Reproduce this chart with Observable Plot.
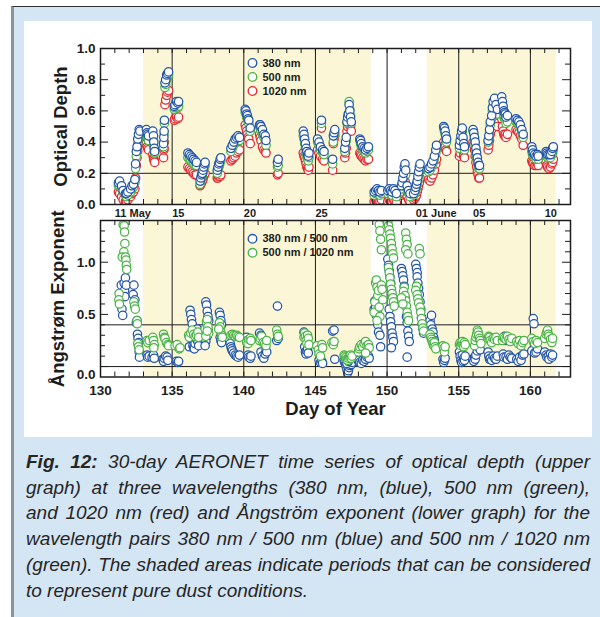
<!DOCTYPE html>
<html>
<head>
<meta charset="utf-8">
<script src="https://cdn.jsdelivr.net/npm/d3@7"></script>
<script src="https://cdn.jsdelivr.net/npm/@observablehq/plot@0.6"></script>
<style>
  html, body { margin: 0; padding: 0; background: #fff; }
  #page { position: relative; width: 600px; height: 617px; overflow: hidden; }
  #box { position: absolute; left: 11px; top: 6px; right: 0; bottom: 0; background: #d4e5f3;
         border-top: 1.5px solid #2e2e2e; border-left: 3px solid #8d939a; }
  #sheet { position: absolute; left: 24px; top: 21px; width: 568px; height: 416px; background: #fff; }
  #upper, #lower { position: absolute; left: 0; }
  #upper { top: 0; }
  #lower { top: 212px; }
  #caption { position: absolute; left: 26px; top: 449px; width: 564px; color: #262626;
             font-family: "Liberation Sans", Arial, Helvetica, sans-serif;
             font-style: italic; font-size: 19px; line-height: 25.7px; }
  #caption span { display: block; white-space: nowrap; text-align: justify; text-align-last: justify; }
  #caption span.last { text-align-last: left; }
  #caption b { font-weight: bold; }
</style>
</head>
<body>
<div id="page">
  <div id="box"></div>
  <div id="sheet"></div>
  <div id="upper"></div>
  <div id="lower"></div>
  <div id="caption"></div>
</div>
<script>
// ---- time axis (day of year) ----
const dayDomain = [130, 162.8];
const dustStart = [133.0, 152.8];   // shaded pure-dust periods
const dustEnd = [148.9, 161.8];
const doyRules = [135, 140, 145, 150, 155, 160];
const doyTicks = [130, 135, 140, 145, 150, 155, 160];
const dateTickDays = [131, 135, 140, 145, 152, 156, 161];
const dateTickLabels = ["11 May", "15", "20", "25", "01 June", "05", "10"];

// ---- optical depth ----
const aodTicks = [0, 0.2, 0.4, 0.6, 0.8, 1.0];
const aodMinor = [0.1, 0.3, 0.5, 0.7, 0.9];
const aodThreshold = [0.2];
const aodSeries = ["380 nm", "500 nm", "1020 nm"];

const aodDay = [
  131.25, 131.33, 131.47, 131.58, 131.74, 131.81, 131.91,
  132.10, 132.20, 132.30, 132.40, 132.45, 132.50, 132.55, 132.60, 132.65, 132.70, 132.75,
  133.20, 133.25, 133.30, 133.35,
  133.65, 133.70, 133.72, 133.75, 133.78,
  134.40, 134.42, 134.44, 134.46, 134.50, 134.55, 134.62, 134.68, 134.75,
  135.15, 135.20, 135.30, 135.40, 135.45,
  136.10, 136.20, 136.30, 136.40, 136.50, 136.60, 136.70,
  136.95, 137.00, 137.05, 137.10, 137.15, 137.20, 137.25, 137.30,
  138.15, 138.20, 138.25, 138.30, 138.35, 138.40,
  139.10, 139.20, 139.30, 139.40, 139.50, 139.60, 139.70,
  140.10, 140.15, 140.20, 140.25, 140.30, 140.35, 140.45,
  141.10, 141.15, 141.20, 141.30, 141.40, 141.50, 141.55,
  142.35, 142.40,
  144.15, 144.20, 144.25, 144.30, 144.35, 144.40, 144.45, 144.50, 144.55,
  145.15, 145.25, 145.35, 145.42, 145.50, 145.60,
  146.20, 146.25, 146.30, 146.35,
  147.05, 147.10, 147.15, 147.20, 147.25, 147.30, 147.35, 147.40, 147.45, 147.50,
  148.10, 148.15, 148.20, 148.30, 148.40, 148.50, 148.60, 148.70,
  149.10, 149.20, 149.30, 149.40, 149.50, 149.60,
  150.05, 150.15, 150.25, 150.35, 150.45, 150.55, 150.65,
  151.00, 151.05, 151.10, 151.15, 151.20, 151.25, 151.30, 151.40, 151.50, 151.60,
  151.85, 151.95, 152.00, 152.05, 152.10, 152.15, 152.20, 152.25, 152.30,
  152.90, 153.00, 153.10, 153.20, 153.30, 153.40, 153.45,
  153.95, 154.00, 154.05, 154.10, 154.15,
  155.05, 155.10, 155.15, 155.20, 155.25, 155.30, 155.35, 155.40,
  156.00, 156.05, 156.10, 156.15, 156.20, 156.25, 156.30, 156.35, 156.40, 156.45,
  157.05, 157.10, 157.15, 157.20, 157.30, 157.35, 157.40, 157.50, 157.60, 157.70,
  158.00, 158.05, 158.10, 158.15, 158.20, 158.25, 158.30, 158.40,
  159.00, 159.10, 159.20, 159.30, 159.40, 159.50,
  160.10, 160.15, 160.20, 160.30, 160.40, 160.50, 160.55,
  161.10, 161.15, 161.20, 161.30, 161.40, 161.50, 161.55, 161.60
];
const aod380 = [
  0.14, 0.15, 0.12, 0.09, 0.07, 0.07, 0.08,
  0.10, 0.12, 0.13, 0.16, 0.26, 0.34, 0.37, 0.42, 0.45, 0.48, 0.47,
  0.48, 0.46, 0.45, 0.44,
  0.47, 0.44, 0.40, 0.36, 0.34,
  0.39, 0.43, 0.47, 0.54, 0.78, 0.80, 0.83, 0.84, 0.85,
  0.63, 0.64, 0.66, 0.65, 0.66,
  0.33, 0.32, 0.31, 0.30, 0.29, 0.28, 0.27,
  0.15, 0.17, 0.19, 0.20, 0.22, 0.24, 0.26, 0.27,
  0.22, 0.24, 0.26, 0.27, 0.29, 0.30,
  0.36, 0.38, 0.40, 0.42, 0.43, 0.44, 0.43,
  0.61, 0.60, 0.58, 0.57, 0.55, 0.54, 0.49,
  0.51, 0.51, 0.50, 0.48, 0.45, 0.44, 0.41,
  0.27, 0.29,
  0.47, 0.45, 0.42, 0.39, 0.36, 0.34, 0.32, 0.31, 0.33,
  0.42, 0.40, 0.37, 0.54, 0.35, 0.34,
  0.29, 0.44, 0.46, 0.48,
  0.36, 0.40, 0.43, 0.53, 0.56, 0.58, 0.64, 0.60, 0.56, 0.53,
  0.42, 0.41, 0.39, 0.37, 0.36, 0.35, 0.36, 0.37,
  0.08, 0.09, 0.10, 0.09, 0.08, 0.09,
  0.09, 0.10, 0.09, 0.08, 0.10, 0.09, 0.07,
  0.12, 0.14, 0.17, 0.20, 0.24, 0.26, 0.22, 0.12, 0.09, 0.07,
  0.07, 0.09, 0.11, 0.13, 0.15, 0.18, 0.21, 0.24, 0.26,
  0.23, 0.24, 0.26, 0.28, 0.31, 0.35, 0.38,
  0.50, 0.49, 0.47, 0.44, 0.42,
  0.38, 0.41, 0.44, 0.47, 0.49, 0.43, 0.39, 0.37,
  0.48, 0.46, 0.43, 0.40, 0.36, 0.33, 0.30, 0.27, 0.25, 0.25,
  0.41, 0.44, 0.48, 0.53, 0.57, 0.62, 0.66, 0.68, 0.64, 0.61,
  0.69, 0.66, 0.63, 0.60, 0.59, 0.58, 0.56, 0.57,
  0.55, 0.54, 0.53, 0.51, 0.48, 0.45,
  0.37, 0.35, 0.33, 0.32, 0.31, 0.32, 0.31,
  0.34, 0.33, 0.32, 0.32, 0.32, 0.34, 0.36, 0.37
];
const aod500 = [
  0.12, 0.12, 0.10, 0.08, 0.06, 0.05, 0.06,
  0.08, 0.10, 0.11, 0.14, 0.23, 0.31, 0.34, 0.39, 0.42, 0.45, 0.45,
  0.45, 0.44, 0.43, 0.41,
  0.42, 0.41, 0.37, 0.34, 0.33,
  0.37, 0.40, 0.45, 0.52, 0.75, 0.77, 0.80, 0.82, 0.83,
  0.61, 0.62, 0.63, 0.62, 0.63,
  0.30, 0.29, 0.28, 0.27, 0.26, 0.25, 0.25,
  0.13, 0.15, 0.17, 0.18, 0.20, 0.22, 0.24, 0.25,
  0.20, 0.22, 0.24, 0.25, 0.27, 0.28,
  0.34, 0.36, 0.38, 0.40, 0.41, 0.42, 0.41,
  0.59, 0.58, 0.56, 0.55, 0.53, 0.52, 0.47,
  0.50, 0.49, 0.47, 0.45, 0.43, 0.41, 0.38,
  0.24, 0.25,
  0.44, 0.42, 0.39, 0.36, 0.33, 0.31, 0.29, 0.28, 0.30,
  0.40, 0.38, 0.35, 0.52, 0.33, 0.32,
  0.26, 0.40, 0.44, 0.46,
  0.34, 0.38, 0.41, 0.52, 0.55, 0.58, 0.66, 0.61, 0.57, 0.52,
  0.41, 0.39, 0.37, 0.35, 0.34, 0.33, 0.34, 0.35,
  0.06, 0.07, 0.08, 0.07, 0.06, 0.07,
  0.07, 0.08, 0.07, 0.06, 0.08, 0.07, 0.05,
  0.10, 0.12, 0.14, 0.17, 0.21, 0.23, 0.19, 0.10, 0.07, 0.05,
  0.06, 0.07, 0.09, 0.11, 0.13, 0.15, 0.18, 0.21, 0.23,
  0.21, 0.22, 0.24, 0.26, 0.29, 0.33, 0.36,
  0.49, 0.47, 0.45, 0.42, 0.40,
  0.36, 0.39, 0.42, 0.45, 0.47, 0.41, 0.37, 0.35,
  0.47, 0.45, 0.42, 0.38, 0.34, 0.31, 0.28, 0.25, 0.23, 0.23,
  0.40, 0.42, 0.46, 0.51, 0.55, 0.60, 0.63, 0.65, 0.61, 0.58,
  0.66, 0.62, 0.59, 0.56, 0.55, 0.54, 0.52, 0.53,
  0.53, 0.52, 0.51, 0.49, 0.46, 0.43,
  0.34, 0.32, 0.31, 0.30, 0.29, 0.30, 0.29,
  0.32, 0.31, 0.30, 0.30, 0.30, 0.32, 0.33, 0.35
];
const aod1020 = [
  0.08, 0.07, 0.05, 0.03, 0.02, 0.02, 0.03,
  0.05, 0.07, 0.08, 0.10, 0.17, 0.25, 0.30, 0.34, 0.38, 0.40, 0.41,
  0.39, 0.37, 0.36, 0.35,
  0.32, 0.30, 0.29, 0.28, 0.27,
  0.30, 0.35, 0.36, 0.40, 0.64, 0.67, 0.70, 0.72, 0.73,
  0.54, 0.55, 0.56, 0.55, 0.56,
  0.24, 0.23, 0.22, 0.21, 0.20, 0.19, 0.19,
  0.12, 0.13, 0.14, 0.15, 0.16, 0.18, 0.19, 0.20,
  0.17, 0.17, 0.18, 0.18, 0.18, 0.19,
  0.28, 0.29, 0.30, 0.31, 0.33, 0.34, 0.35,
  0.51, 0.49, 0.47, 0.45, 0.43, 0.42, 0.39,
  0.45, 0.43, 0.41, 0.37, 0.35, 0.34, 0.33,
  0.19, 0.20,
  0.33, 0.31, 0.30, 0.28, 0.26, 0.24, 0.23, 0.22, 0.24,
  0.35, 0.33, 0.31, 0.49, 0.29, 0.28,
  0.22, 0.39, 0.42, 0.44,
  0.30, 0.33, 0.36, 0.47, 0.50, 0.52, 0.58, 0.54, 0.50, 0.47,
  0.33, 0.32, 0.31, 0.30, 0.29, 0.28, 0.29, 0.29,
  0.02, 0.03, 0.03, 0.02, 0.02, 0.03,
  0.02, 0.03, 0.02, 0.02, 0.03, 0.02, 0.01,
  0.06, 0.07, 0.08, 0.10, 0.13, 0.15, 0.12, 0.05, 0.03, 0.02,
  0.03, 0.04, 0.05, 0.06, 0.08, 0.10, 0.12, 0.14, 0.17,
  0.16, 0.15, 0.17, 0.19, 0.22, 0.26, 0.29,
  0.40, 0.38, 0.37, 0.35, 0.34,
  0.31, 0.33, 0.36, 0.39, 0.40, 0.34, 0.31, 0.30,
  0.40, 0.38, 0.35, 0.31, 0.27, 0.24, 0.21, 0.19, 0.17, 0.17,
  0.35, 0.38, 0.41, 0.45, 0.48, 0.52, 0.54, 0.55, 0.52, 0.50,
  0.55, 0.50, 0.47, 0.45, 0.44, 0.45, 0.43, 0.45,
  0.48, 0.47, 0.46, 0.44, 0.42, 0.38,
  0.28, 0.27, 0.26, 0.25, 0.25, 0.26, 0.25,
  0.27, 0.25, 0.24, 0.23, 0.24, 0.26, 0.27, 0.29
];

// ---- Ångström exponent: [day of year, exponent] ----
const angTicks = [0.5, 1.0];
const angZeroTick = [0];
const angMinor = [0.1, 0.2, 0.3, 0.4, 0.6, 0.7, 0.8, 0.9, 1.1, 1.2, 1.3];
const angRules = [0, 0.4];
const angSeries = ["380 nm / 500 nm", "500 nm / 1020 nm"];

const ang380_500 = [
  [131.45,0.78],[131.45,0.68],[131.50,0.55],[131.55,0.49],[131.65,0.80],[131.68,0.73],[131.70,0.67],
  [131.74,0.85],[131.80,0.78],[132.28,0.69],[132.33,0.78],[132.40,0.64],[132.50,0.42],[132.55,0.44],
  [132.58,0.31],[132.62,0.27],[132.66,0.23],[132.70,0.14],[132.72,0.09],
  [133.25,0.11],[133.30,0.09],[133.40,0.10],[133.60,0.09],[133.70,0.11],[133.75,0.08],
  [134.35,0.07],[134.40,0.05],[134.45,0.08],[134.55,0.10],[134.65,0.09],[134.70,0.06],
  [135.30,0.05],[135.40,0.04],[135.45,0.05],
  [136.20,0.19],[136.25,0.54],[136.30,0.50],[136.35,0.45],[136.40,0.41],[136.45,0.20],[136.50,0.18],
  [136.55,0.17],[136.60,0.22],[136.70,0.26],[136.75,0.36],[136.80,0.24],[136.85,0.20],
  [137.35,0.62],[137.40,0.59],[137.45,0.53],[137.50,0.48],[137.55,0.44],[137.40,0.40],[137.45,0.29],
  [137.35,0.24],[137.30,0.20],[137.50,0.35],
  [138.30,0.52],[138.35,0.49],[138.40,0.44],[138.45,0.40],[138.30,0.36],[138.35,0.28],[138.40,0.25],[138.45,0.23],
  [139.05,0.22],[139.10,0.19],[139.15,0.17],[139.20,0.15],[139.30,0.13],[139.40,0.11],[139.50,0.10],
  [139.60,0.09],[139.70,0.11],
  [140.20,0.28],[140.25,0.25],[140.30,0.11],[140.35,0.09],[140.45,0.08],[140.50,0.10],
  [141.10,0.32],[141.20,0.30],[141.25,0.27],[141.20,0.14],[141.30,0.10],[141.40,0.08],[141.50,0.12],
  [141.55,0.15],[141.60,0.14],
  [142.30,0.25],[142.35,0.58],[142.40,0.27],
  [144.20,0.33],[144.25,0.19],[144.30,0.14],[144.35,0.12],[144.40,0.15],[144.45,0.17],[144.50,0.13],
  [145.25,0.06],[145.35,0.04],[145.45,0.05],[145.50,0.03],
  [146.20,0.34],[146.30,0.35],[146.35,0.07],
  [147.00,0.06],[147.05,0.04],[147.10,0.02],[147.15,0.00],[147.20,-0.03],[147.25,-0.06],[147.30,-0.04],
  [147.35,-0.01],[147.40,0.01],[147.45,0.03],[147.50,0.02],[147.55,0.04],[147.20,0.03],[147.30,0.05],
  [148.00,0.05],[148.05,0.06],[148.10,0.04],[148.20,0.03],[148.30,0.06],[148.40,0.05],[148.50,0.07],
  [148.60,0.09],[148.70,0.10],[148.75,0.08],
  [149.10,0.55],[149.15,0.63],[149.20,0.57],[149.25,0.49],[149.30,0.52],[149.35,0.40],[149.40,0.33],
  [149.50,0.30],[149.55,0.19],
  [150.05,1.03],[150.10,0.97],[150.15,0.92],[150.20,0.86],[150.25,0.80],[150.30,0.74],[150.15,0.55],
  [150.20,0.48],[150.25,0.43],[150.30,0.38],[150.35,0.32],[150.40,0.28],[150.45,0.24],[150.30,0.18],
  [151.00,0.94],[151.05,0.91],[151.10,0.87],[151.15,0.83],[151.20,0.77],[151.25,0.66],[151.30,0.58],
  [151.35,0.48],[151.40,0.42],[151.45,0.34],[151.50,0.29],[151.40,0.09],[151.55,0.24],
  [152.00,0.98],[152.05,0.94],[152.10,0.90],[152.10,0.86],[152.15,0.80],[152.20,0.75],[152.25,0.69],
  [152.30,0.62],[152.35,0.55],[152.40,0.47],[152.45,0.41],[152.50,0.36],[152.55,0.32],
  [153.00,0.44],[153.05,0.40],[153.10,0.49],[153.15,0.36],[153.20,0.33],[153.25,0.28],[153.30,0.25],
  [153.35,0.21],[153.40,0.20],[153.90,0.07],[153.95,0.04],[154.00,0.06],[154.05,0.08],
  [155.05,0.14],[155.10,0.10],[155.15,0.06],[155.20,0.04],[155.25,0.11],[155.30,0.05],[155.35,0.08],
  [155.40,0.06],[155.45,0.10],
  [156.05,0.05],[156.10,0.09],[156.15,0.07],[156.20,0.11],[156.30,0.15],[156.35,0.19],[156.40,0.22],
  [156.45,0.19],[156.50,0.16],
  [157.05,0.14],[157.10,0.10],[157.15,0.07],[157.20,0.08],[157.30,0.06],[157.40,0.10],[157.50,0.08],
  [157.60,0.07],[157.70,0.10],
  [158.10,0.12],[158.15,0.09],[158.20,0.29],[158.25,0.25],[158.30,0.09],[158.40,0.07],[158.50,0.11],
  [158.60,0.09],[158.70,0.08],
  [159.05,0.07],[159.15,0.05],[159.25,0.09],[159.35,0.06],[159.45,0.11],[159.55,0.12],
  [160.10,0.15],[160.20,0.46],[160.25,0.41],[160.30,0.13],[160.40,0.14],[160.50,0.17],
  [161.00,0.14],[161.10,0.11],[161.15,0.09],[161.25,0.10],[161.30,0.07],[161.40,0.12],[161.50,0.09],[161.55,0.11]
];
const ang500_1020 = [
  [131.58,1.36],[131.65,1.35],[131.68,1.29],[131.70,1.18],[131.63,1.10],[131.52,1.05],[131.74,1.05],
  [131.78,1.02],[131.80,0.97],[131.83,0.93],[131.30,0.70],[131.28,0.64],[131.32,0.60],[132.33,0.62],
  [132.37,0.58],[132.43,0.55],[132.55,0.44],[132.57,0.41],[132.60,0.22],[132.65,0.19],[132.70,0.16],
  [133.25,0.25],[133.30,0.23],[133.40,0.25],[133.65,0.28],[133.70,0.25],[133.75,0.21],[133.72,0.18],
  [134.40,0.31],[134.45,0.28],[134.50,0.27],[134.60,0.23],[134.70,0.21],[134.75,0.20],
  [135.20,0.20],[135.35,0.21],[135.50,0.17],[135.55,0.18],
  [136.15,0.30],[136.20,0.28],[136.30,0.32],[136.40,0.35],[136.50,0.31],[136.60,0.29],[136.70,0.30],
  [136.80,0.33],[136.85,0.28],
  [137.30,0.36],[137.40,0.43],[137.45,0.45],[137.50,0.38],[137.55,0.32],[137.35,0.29],[137.45,0.34],
  [138.30,0.42],[138.35,0.38],[138.40,0.33],[138.45,0.30],[138.50,0.28],[138.25,0.36],
  [139.10,0.30],[139.20,0.31],[139.30,0.30],[139.40,0.29],[139.50,0.30],[139.60,0.29],[139.70,0.28],
  [140.20,0.23],[140.30,0.22],[140.35,0.26],[140.45,0.27],[140.50,0.25],
  [141.10,0.25],[141.15,0.27],[141.25,0.29],[141.35,0.23],[141.45,0.22],[141.55,0.20],[141.60,0.25],
  [142.30,0.35],[142.35,0.31],[142.40,0.29],
  [144.20,0.28],[144.25,0.32],[144.30,0.29],[144.35,0.25],[144.40,0.22],[144.45,0.30],[144.50,0.27],[144.55,0.21],
  [145.10,0.20],[145.20,0.16],[145.25,0.12],[145.35,0.10],[145.45,0.21],[145.50,0.18],
  [146.15,0.23],[146.25,0.21],[146.30,0.24],
  [147.00,0.11],[147.05,0.10],[147.10,0.08],[147.15,0.09],[147.20,0.07],[147.25,0.06],[147.30,0.08],
  [147.35,0.10],[147.40,0.09],[147.45,0.11],[147.50,0.08],[147.55,0.10],
  [148.00,0.14],[148.05,0.17],[148.10,0.19],[148.20,0.21],[148.30,0.19],[148.40,0.22],[148.50,0.24],
  [148.60,0.20],[148.70,0.21],[148.75,0.18],[148.50,0.13],
  [149.10,0.52],[149.15,0.62],[149.20,0.80],[149.25,0.83],[149.30,0.76],[149.35,0.68],[149.40,0.73],
  [149.45,1.36],[149.50,1.30],[149.55,1.22],[149.60,1.12],[149.45,0.57],[149.50,0.48],[149.60,0.78],
  [149.65,0.74],[149.70,0.64],[149.30,0.44],
  [150.05,1.38],[150.10,1.35],[150.15,1.31],[150.20,1.27],[150.25,1.23],[150.30,1.18],[150.35,1.13],
  [150.40,1.08],[150.45,1.04],[150.10,0.95],[150.15,0.90],[150.20,0.85],[150.25,0.79],[150.30,0.74],
  [150.35,0.70],[150.40,0.66],[150.45,0.62],[150.50,0.58],
  [151.30,1.28],[151.35,1.22],[151.40,1.17],[151.30,1.12],[151.45,1.08],[151.20,0.76],[151.15,0.72],
  [151.25,0.68],[151.30,0.63],[151.35,0.58],[151.40,0.52],[151.45,0.48],[151.50,0.44],[151.00,0.66],[151.10,0.60],
  [152.25,1.13],[152.30,1.08],[152.05,0.77],[152.00,0.73],[152.10,0.69],[152.15,0.65],[152.20,0.61],
  [152.30,0.57],[152.35,0.52],[152.40,0.46],[152.45,0.41],[152.50,0.37],[152.55,0.34],
  [153.00,0.31],[153.05,0.28],[153.10,0.26],[153.15,0.24],[153.20,0.22],[153.25,0.20],[153.30,0.23],
  [153.35,0.19],[153.40,0.17],[153.90,0.20],[153.95,0.17],[154.00,0.14],[154.05,0.19],
  [155.05,0.21],[155.10,0.23],[155.15,0.20],[155.20,0.22],[155.25,0.24],[155.30,0.21],[155.35,0.19],
  [155.40,0.23],[155.45,0.21],
  [156.10,0.20],[156.15,0.25],[156.20,0.28],[156.25,0.31],[156.30,0.35],[156.35,0.33],[156.40,0.30],
  [156.45,0.27],[156.50,0.25],[156.55,0.22],
  [157.05,0.27],[157.10,0.29],[157.15,0.28],[157.20,0.25],[157.30,0.23],[157.40,0.27],[157.50,0.26],
  [157.60,0.28],[157.70,0.25],
  [158.05,0.25],[158.10,0.28],[158.20,0.27],[158.30,0.26],[158.40,0.29],[158.50,0.26],[158.60,0.24],[158.70,0.27],
  [159.05,0.24],[159.15,0.22],[159.25,0.25],[159.35,0.20],[159.45,0.23],[159.55,0.25],
  [160.10,0.27],[160.20,0.24],[160.30,0.22],[160.40,0.25],[160.50,0.23],
  [161.00,0.27],[161.10,0.31],[161.15,0.33],[161.20,0.35],[161.25,0.31],[161.30,0.29],[161.40,0.26],
  [161.50,0.23],[161.55,0.27]
];

// ---- caption ----
const captionLines = [
  ["Fig. 12:", " 30-day AERONET time series of optical depth (upper"],
  ["", "graph) at three wavelengths (380 nm, (blue), 500 nm (green),"],
  ["", "and 1020 nm (red) and Ångström exponent (lower graph) for the"],
  ["", "wavelength pairs 380 nm / 500 nm (blue) and 500 nm / 1020 nm"],
  ["", "(green).  The shaded areas indicate periods that can be considered"],
  ["", "to represent pure dust conditions."]
];

// ---- styling ----
const FONT = '"Liberation Sans", Arial, Helvetica, sans-serif';
const INK = "#1c1c1c";
const BLUE = "#2456a8", GREEN = "#4cb446", RED = "#e3292e";
const DUST = "#fbf6d6";
const W = 600, ML = 100, MR = 30;
const innerW = W - ML - MR;
const dayTicks = d3.range(131, 163);
const dotStyle = {r: 4.2, strokeWidth: 1.25, fill: "white", clip: true};
const bold = {fontWeight: "bold", fill: INK, lineAnchor: "middle"};

// inward tick marks on all four edges of a panel
function edgeTicks(innerH, major, minor) {
  return [
    Plot.tickX(dayTicks, {x: d => d, insetBottom: innerH - 5, stroke: INK}),
    Plot.tickX(dayTicks, {x: d => d, insetTop: innerH - 5, stroke: INK}),
    Plot.tickY(major, {y: d => d, insetRight: innerW - 8, stroke: INK}),
    Plot.tickY(major, {y: d => d, insetLeft: innerW - 8, stroke: INK}),
    Plot.tickY(minor, {y: d => d, insetRight: innerW - 5, stroke: INK}),
    Plot.tickY(minor, {y: d => d, insetLeft: innerW - 5, stroke: INK})
  ];
}

function legend(names, colors, dy0) {
  return names.flatMap((name, i) => [
    Plot.dot([name], {frameAnchor: "top-left", dx: 152, dy: dy0 + 14 * i, r: 4.3, strokeWidth: 1.3,
                      stroke: colors[i], fill: "white"}),
    Plot.text([name], {frameAnchor: "top-left", dx: 162, dy: dy0 + 14 * i, text: d => d,
                       textAnchor: "start", fontSize: 11, ...bold})
  ]);
}

// upper panel: optical depth
const H1 = 222, MT1 = 48, MB1 = 18, inner1 = H1 - MT1 - MB1;
const upper = Plot.plot({
  width: W, height: H1, marginLeft: ML, marginRight: MR, marginTop: MT1, marginBottom: MB1,
  x: {domain: dayDomain, axis: null},
  y: {domain: [0, 1.0], axis: null},
  style: {fontFamily: FONT, background: "transparent", overflow: "visible"},
  marks: [
    Plot.rect(dustStart, {x1: d => d, x2: (d, i) => dustEnd[i], fill: DUST}),
    Plot.ruleX(doyRules, {stroke: INK, strokeWidth: 1}),
    Plot.ruleY(aodThreshold, {stroke: INK, strokeWidth: 1}),
    Plot.dot(aodDay, {x: d => d, y: (d, i) => aod1020[i], stroke: RED, ...dotStyle}),
    Plot.dot(aodDay, {x: d => d, y: (d, i) => aod500[i], stroke: GREEN, ...dotStyle}),
    Plot.dot(aodDay, {x: d => d, y: (d, i) => aod380[i], stroke: BLUE, ...dotStyle}),
    ...edgeTicks(inner1, aodTicks, aodMinor),
    Plot.frame({stroke: INK, strokeWidth: 1.5}),
    Plot.text(aodTicks, {y: d => d, frameAnchor: "left", dx: -5, textAnchor: "end",
                         text: d => d.toFixed(1), fontSize: 13.5, ...bold}),
    Plot.text(dateTickDays, {x: d => d, frameAnchor: "bottom", dy: 9, textAnchor: "start",
                             text: (d, i) => dateTickLabels[i], fontSize: 11, ...bold}),
    Plot.text(["Optical Depth"], {frameAnchor: "left", dx: -39, rotate: -90, textAnchor: "middle",
                                  fontSize: 18.5, ...bold}),
    ...legend(aodSeries, [BLUE, GREEN, RED], 14.5)
  ]
});
document.getElementById("upper").append(upper);

// lower panel: Ångström exponent
const H2 = 212, MT2 = 8, MB2 = 47.5, inner2 = H2 - MT2 - MB2;
const lower = Plot.plot({
  width: W, height: H2, marginLeft: ML, marginRight: MR, marginTop: MT2, marginBottom: MB2,
  x: {domain: dayDomain, axis: null},
  y: {domain: [-0.1, 1.4], axis: null},
  style: {fontFamily: FONT, background: "transparent", overflow: "visible"},
  marks: [
    Plot.rect(dustStart, {x1: d => d, x2: (d, i) => dustEnd[i], fill: DUST}),
    Plot.ruleX(doyRules, {stroke: INK, strokeWidth: 1}),
    Plot.ruleY(angRules, {stroke: INK, strokeWidth: 1}),
    Plot.dot(ang380_500, {x: d => d[0], y: d => d[1], stroke: BLUE, ...dotStyle}),
    Plot.dot(ang500_1020, {x: d => d[0], y: d => d[1], stroke: GREEN, ...dotStyle}),
    ...edgeTicks(inner2, [...angZeroTick, ...angTicks], angMinor),
    Plot.frame({stroke: INK, strokeWidth: 1.5}),
    Plot.text(angTicks, {y: d => d, frameAnchor: "left", dx: -5, textAnchor: "end",
                         text: d => d.toFixed(1), fontSize: 13.5, ...bold}),
    Plot.text(angZeroTick, {y: d => d, frameAnchor: "left", dx: -5, dy: 8, textAnchor: "end",
                            text: d => d.toFixed(1), fontSize: 13.5, ...bold}),
    Plot.text(doyTicks, {x: d => d, frameAnchor: "bottom", dy: 13.5, textAnchor: "middle",
                         text: d => String(d), fontSize: 13.5, ...bold}),
    Plot.text(["Ångstrøm Exponent"], {frameAnchor: "left", dx: -42, rotate: -90, textAnchor: "middle",
                                      fontSize: 18.5, ...bold}),
    Plot.text(["Day of Year"], {frameAnchor: "bottom", dy: 32, textAnchor: "middle", fontSize: 18.5, ...bold}),
    ...legend(angSeries, [BLUE, GREEN], 18.3)
  ]
});
document.getElementById("lower").append(lower);

// caption, one justified row per printed line
const cap = document.getElementById("caption");
captionLines.forEach(([lead, rest], i) => {
  const row = document.createElement("span");
  if (i === captionLines.length - 1) row.className = "last";
  if (lead) {
    const b = document.createElement("b");
    b.textContent = lead;
    row.append(b);
  }
  row.append(document.createTextNode(rest));
  cap.append(row);
});
</script>
</body>
</html>
